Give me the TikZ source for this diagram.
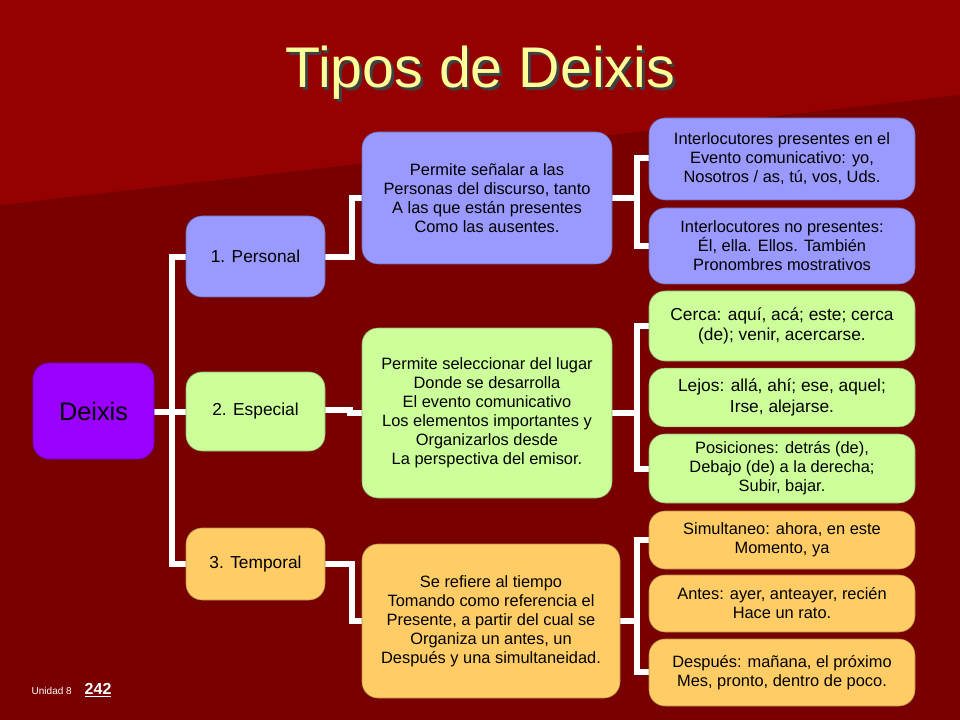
\documentclass[tikz,border=0pt]{standalone}
\usepackage{fontspec}
\setmainfont{Liberation Sans}
\begin{document}
\begin{tikzpicture}[x=0.75pt,y=-0.75pt,
  bx/.style={draw=#1!70!black,fill=#1,line width=0.4pt,rounded corners=12pt,align=center,inner sep=0pt,font=\fontsize{12.3}{14.3}\selectfont},
  conn/.style={draw=white,line width=4pt},
]
\definecolor{bgred}{HTML}{780000}
\definecolor{bgtop}{HTML}{950000}
\definecolor{cblue}{HTML}{9999FF}
\definecolor{cgreen}{HTML}{CCFF99}
\definecolor{corange}{HTML}{FFCC66}
\definecolor{cviolet}{HTML}{9900FF}
\definecolor{ttl}{HTML}{FFFF99}
\useasboundingbox (0,0) rectangle (960,720);
\fill[bgred] (0,0) rectangle (960,720);
\fill[bgtop] (0,0) -- (960,0) -- (960,95) -- (0,205) -- cycle;
\node (title) [font=\fontsize{43}{46}\selectfont,text=ttl,
  preaction={}] at (480,74) {\rlap{\kern2.2pt\raisebox{-2.2pt}{\textcolor{black!75}{Tipos de Deixis}}}Tipos de Deixis};
% connectors
\coordinate (j0) at (172,412);
\coordinate (j1) at (352,257);
\coordinate (j3) at (352,564);
\coordinate (k1) at (637,198);
\coordinate (k2) at (637,413);
\coordinate (k3) at (637,621);
\draw[conn] (154,412) -- (j0);
\draw[conn] (186,257) -| (j0) |- (186,564);
\draw[conn] (j0) -- (186,412);
\draw[conn] (325,257) -- (j1) |- (362,198);
\draw[conn] (325,410) -- (350,410) -- (350,413) -- (362,413);
\draw[conn] (325,564) -- (j3) |- (362,621);
\draw[conn] (612,198) -- (k1);
\draw[conn] (649,158) -| (k1) |- (649,246);
\draw[conn] (612,413) -- (k2);
\draw[conn] (649,326) -| (k2) |- (649,469);
\draw[conn] (620,621) -- (k3);
\draw[conn] (649,540) -| (k3) |- (649,672);
% level 0/1
\node (deixis) [bx=cviolet,minimum width=90.75pt,minimum height=72pt,font=\fontsize{19}{22}\selectfont] at (93.5,411) {Deixis};
\node (p1) [bx=cblue,minimum width=104.25pt,minimum height=60.75pt,font=\fontsize{13}{15}\selectfont] at (255.5,256.5) {1. Personal};
\node (p2) [bx=cgreen,minimum width=104.25pt,minimum height=59.25pt,font=\fontsize{13}{15}\selectfont] at (255.5,411.5) {2. Especial};
\node (p3) [bx=corange,minimum width=104.25pt,minimum height=54pt,font=\fontsize{13}{15}\selectfont] at (255.5,564) {3. Temporal};
% level 2
\node (m1) [bx=cblue,minimum width=187.5pt,minimum height=99pt] at (487,198) {Permite señalar a las\\Personas del discurso, tanto\\A las que están presentes\\Como las ausentes.};
\node (m2) [bx=cgreen,minimum width=187.5pt,minimum height=127.5pt] at (487,413) {Permite seleccionar del lugar\\Donde se desarrolla\\El evento comunicativo\\Los elementos importantes y\\Organizarlos desde\\La perspectiva del emisor.};
\node (m3) [bx=corange,minimum width=193.5pt,minimum height=115.5pt] at (491,621) {Se refiere al tiempo\\Tomando como referencia el\\Presente, a partir del cual se\\Organiza un antes, un\\Después y una simultaneidad.};
% level 3
\node (r1) [bx=cblue,minimum width=199.5pt,minimum height=61.5pt] at (782,159) {Interlocutores presentes en el\\Evento comunicativo: yo,\\Nosotros / as, tú, vos, Uds.};
\node (r2) [bx=cblue,minimum width=199.5pt,minimum height=57pt] at (782,246) {Interlocutores no presentes:\\Él, ella. Ellos. También\\Pronombres mostrativos};
\node (r3) [bx=cgreen,minimum width=199.5pt,minimum height=52.5pt,font=\fontsize{13}{15.5}\selectfont] at (782,326) {Cerca: aquí, acá; este; cerca\\(de); venir, acercarse.};
\node (r4) [bx=cgreen,minimum width=199.5pt,minimum height=44pt,font=\fontsize{13}{15.5}\selectfont] at (782,397.5) {Lejos: allá, ahí; ese, aquel;\\Irse, alejarse.};
\node (r5) [bx=cgreen,minimum width=199.5pt,minimum height=51.75pt] at (782,468.5) {Posiciones: detrás (de),\\Debajo (de) a la derecha;\\Subir, bajar.};
\node (r6) [bx=corange,minimum width=199.5pt,minimum height=43.5pt] at (782,540) {Simultaneo: ahora, en este\\Momento, ya};
\node (r7) [bx=corange,minimum width=199.5pt,minimum height=42.75pt] at (782,603.5) {Antes: ayer, anteayer, recién\\Hace un rato.};
\node (r8) [bx=corange,minimum width=199.5pt,minimum height=50.25pt] at (782,672.5) {Después: mañana, el próximo\\Mes, pronto, dentro de poco.};
% footer
\node (u) [anchor=base west,text=white,font=\fontsize{7.5}{9}\selectfont] at (27,694) {Unidad 8};
\node (n) [anchor=base west,text=white,font=\bfseries\fontsize{12}{14}\selectfont] at (80,694) {\underline{242}};
\end{tikzpicture}
\end{document}
